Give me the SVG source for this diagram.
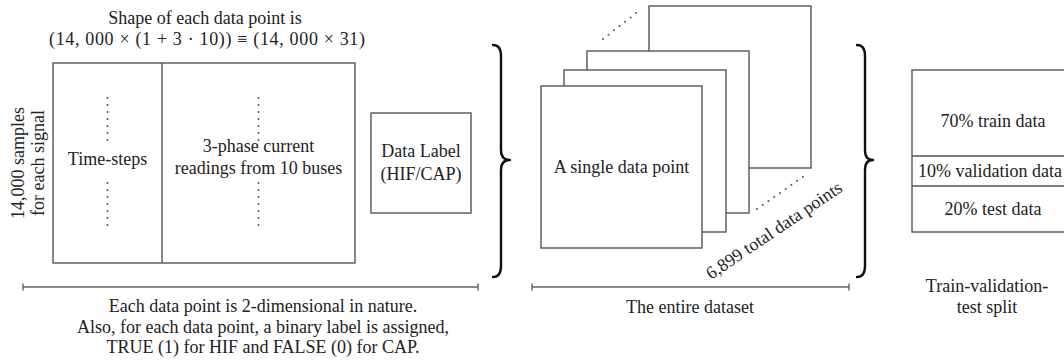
<svg xmlns="http://www.w3.org/2000/svg" width="1064" height="362" viewBox="0 0 1064 362" font-family="'Liberation Serif', 'DejaVu Serif', serif">
  <style>
    text { font-family: "Liberation Serif", "DejaVu Serif", serif; font-size: 18px; fill: #222; }
    .mid { text-anchor: middle; }
    .box { fill: #fff; stroke: #555; stroke-width: 1.4; }
    .dots { fill: none; stroke: #555; stroke-width: 2; stroke-linecap: round; stroke-dasharray: 0 7; }
    .brace { fill: none; stroke: #111; stroke-width: 2.4; stroke-linecap: round; stroke-linejoin: round; }
    .span { fill: none; stroke: #666; stroke-width: 1.4; }
  </style>

  <!-- shape caption -->
  <g id="shape-caption">
    <text class="mid" x="205" y="24">Shape of each data point is</text>
    <text class="mid" x="207" y="45" textLength="316" lengthAdjust="spacing">(14, 000 × (1 + 3 · 10)) ≡ (14, 000 × 31)</text>
  </g>

  <!-- side label for the row count -->
  <g id="samples-label">
    <text class="mid" transform="translate(24,163) rotate(-90)">14,000 samples</text>
    <text class="mid" transform="translate(44,163) rotate(-90)">for each signal</text>
  </g>

  <!-- one data point: time-steps column + current readings -->
  <g id="data-point-matrix">
    <rect class="box" x="53" y="63" width="302" height="200"/>
    <line x1="162" y1="63" x2="162" y2="263" stroke="#555" stroke-width="1.4"/>
    <path class="dots" d="M107.5,98 V141 M107.5,183 V226 M258.5,98 V141 M258.5,183 V226"/>
    <text class="mid" x="107.5" y="165">Time-steps</text>
    <text class="mid" x="258.5" y="152">3-phase current</text>
    <text class="mid" x="258.5" y="174">readings from 10 buses</text>
  </g>

  <g id="data-label">
    <rect class="box" x="371" y="113" width="100" height="100"/>
    <text class="mid" x="421" y="157">Data Label</text>
    <text class="mid" x="421" y="180">(HIF/CAP)</text>
  </g>

  <!-- stack of data points -->
  <g id="dataset-stack">
    <rect class="box" x="649" y="6" width="162" height="162"/>
    <rect class="box" x="587" y="51" width="162" height="162"/>
    <rect class="box" x="564" y="70" width="162" height="162"/>
    <rect class="box" x="541" y="86" width="161" height="162"/>
    <path class="dots" d="M603,39 L640,10 M757,209 L804,176"/>
    <text class="mid" x="621.5" y="173">A single data point</text>
    <text x="711" y="280" transform="rotate(-34 711 280)">6,899 total data points</text>
  </g>

  <g id="split">
    <rect class="box" x="912" y="70" width="162" height="162"/>
    <line x1="912" y1="156" x2="1074" y2="156" stroke="#555" stroke-width="1.4"/>
    <line x1="912" y1="186" x2="1074" y2="186" stroke="#555" stroke-width="1.4"/>
    <text class="mid" x="993" y="127">70% train data</text>
    <text x="918" y="177">10% validation data</text>
    <text class="mid" x="993" y="215">20% test data</text>
  </g>

  <!-- braces and span rulers -->
  <g id="connectors">
    <path class="brace" d="M493,45 Q501,45 501,56 L501,150 Q501,160 510,160 Q501,160 501,170 L501,266 Q501,277 493,277"/>
    <path class="brace" d="M857,45 Q865,45 865,56 L865,150 Q865,160 873,160 Q865,160 865,170 L865,266 Q865,277 857,277"/>
    <path class="span" d="M23,287 H478 M23,283.5 V290.5 M478,283.5 V290.5"/>
    <path class="span" d="M532,287 H849 M532,283.5 V290.5 M849,283.5 V290.5"/>
  </g>

  <g id="captions">
    <text class="mid" x="263" y="312">Each data point is 2-dimensional in nature.</text>
    <text class="mid" x="263" y="333">Also, for each data point, a binary label is assigned,</text>
    <text class="mid" x="263" y="353">TRUE (1) for HIF and FALSE (0) for CAP.</text>
    <text class="mid" x="690" y="313">The entire dataset</text>
    <text class="mid" x="987" y="292">Train-validation-</text>
    <text class="mid" x="987" y="313">test split</text>
  </g>
</svg>
